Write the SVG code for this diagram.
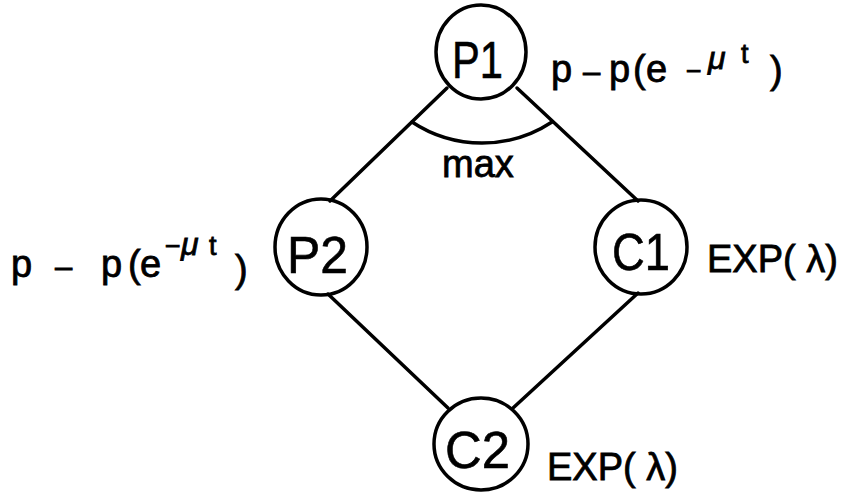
<svg xmlns="http://www.w3.org/2000/svg" width="851" height="493" viewBox="0 0 851 493">
<style>
.n{fill:none;stroke:#000;stroke-width:3.5}
.c{stroke:#000;stroke-width:3.5;fill:none;stroke-linecap:round}
.lab{font-family:"Liberation Sans",Arial,sans-serif;font-size:52px;fill:#000;stroke:#000;stroke-width:0.6}
.t{font-family:"Liberation Sans",Arial,sans-serif;font-size:38px;fill:#000;stroke:#000;stroke-width:0.8}
.s{font-size:27px}
.mu{font-size:32px;font-style:italic}
.d{font-size:31px}
</style>
<rect width="851" height="493" fill="#fff"/>
<g id="connectors">
<line class="c" x1="447" y1="88" x2="330" y2="201"/>
<line class="c" x1="517" y1="88" x2="638" y2="201"/>
<line class="c" x1="328" y1="294" x2="448" y2="408"/>
<line class="c" x1="638" y1="293" x2="513" y2="408"/>
<path class="c" d="M412,122 A127,127 0 0 0 552,122"/>
</g>
<g id="P1">
<ellipse class="n" cx="481" cy="52" rx="45" ry="47"/>
<text class="lab" x="452" y="78" textLength="51" lengthAdjust="spacingAndGlyphs">P1</text>
<text class="t" y="82"><tspan x="551">p</tspan><tspan class="d" x="583">–</tspan><tspan x="609">p</tspan><tspan x="633">(</tspan><tspan x="646">e</tspan></text>
<text class="t s" x="686" y="80">−</text>
<text class="t mu" x="708" y="69">μ</text>
<text class="t s" x="741" y="63">t</text>
<text class="t" x="770" y="83" font-size="40">)</text>
</g>
<g id="max"><text class="t" x="442" y="177" font-size="36">max</text></g>
<g id="P2">
<ellipse class="n" cx="321" cy="247" rx="46" ry="48"/>
<text class="lab" x="287" y="273" textLength="61" lengthAdjust="spacingAndGlyphs">P2</text>
<text class="t" y="277"><tspan x="11">p</tspan><tspan class="d" x="55">–</tspan><tspan x="101">p</tspan><tspan x="128">(</tspan><tspan x="140">e</tspan></text>
<text class="t s" x="165" y="255">−</text>
<text class="t mu" x="181" y="255">μ</text>
<text class="t s" x="209" y="255">t</text>
<text class="t" x="235" y="282" font-size="40">)</text>
</g>
<g id="C1">
<ellipse class="n" cx="641" cy="247" rx="46" ry="47"/>
<text class="lab" x="612" y="270" textLength="58" lengthAdjust="spacingAndGlyphs">C1</text>
<text class="t" x="707" y="272">EXP( λ)</text>
</g>
<g id="C2">
<ellipse class="n" cx="481" cy="444" rx="47" ry="46"/>
<text class="lab" x="445" y="468" textLength="65" lengthAdjust="spacingAndGlyphs">C2</text>
<text class="t" x="547" y="480">EXP( λ)</text>
</g>
</svg>
